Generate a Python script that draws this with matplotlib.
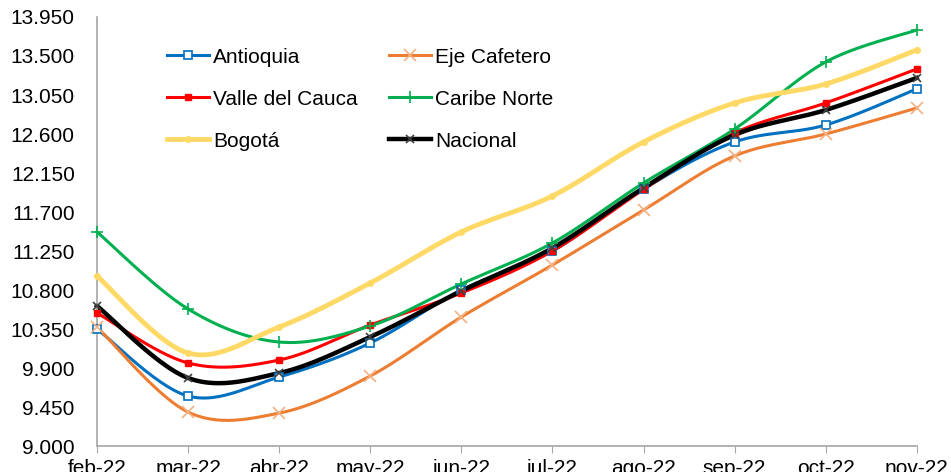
import numpy as np
import matplotlib
matplotlib.use("Agg")
import matplotlib.pyplot as plt
from matplotlib.ticker import FuncFormatter

plt.rcParams['font.family'] = ['Liberation Sans', 'DejaVu Sans']

meses = ['feb-22', 'mar-22', 'abr-22', 'may-22', 'jun-22', 'jul-22',
         'ago-22', 'sep-22', 'oct-22', 'nov-22']

antioquia = [10350, 9577, 9796, 10189, 10800, 11250, 11966, 12508, 12704, 13120]
eje_cafetero = [10373, 9392, 9380, 9808, 10488, 11089, 11723, 12347, 12600, 12900]
valle = [10535, 9958, 9992, 10396, 10765, 11250, 11960, 12612, 12958, 13350]
caribe = [11470, 10581, 10200, 10385, 10870, 11343, 12035, 12658, 13431, 13800]
bogota = [10962, 10073, 10373, 10881, 11470, 11885, 12508, 12958, 13177, 13570]
nacional = [10616, 9785, 9842, 10258, 10789, 11285, 11977, 12589, 12877, 13247]


def suavizar(x, y, n=30):
    # bezier suave tipo Excel (catmull-rom)
    x = np.asarray(x, float)
    y = np.asarray(y, float)
    xs, ys = [], []
    m = len(x)
    for i in range(m - 1):
        i0 = max(i - 1, 0)
        i3 = min(i + 2, m - 1)
        p0 = np.array([x[i0], y[i0]])
        p1 = np.array([x[i], y[i]])
        p2 = np.array([x[i + 1], y[i + 1]])
        p3 = np.array([x[i3], y[i3]])
        c1 = p1 + (p2 - p0) / 6
        c2 = p2 - (p3 - p1) / 6
        t = np.linspace(0, 1, n)[:, None]
        pts = ((1 - t) ** 3) * p1 + 3 * ((1 - t) ** 2) * t * c1 + 3 * (1 - t) * t ** 2 * c2 + t ** 3 * p2
        xs.extend(pts[:, 0])
        ys.extend(pts[:, 1])
    return np.array(xs), np.array(ys)


fig = plt.figure(figsize=(9.51, 4.72), dpi=100)
ax = fig.add_axes([0.102, 0.055, 0.862, 0.909])

x = np.arange(len(meses))

series = [
    ('Antioquia', antioquia, '#0070C0', 2.2, dict(marker='s', ms=6, mfc='white', mec='#0070C0', mew=1.2)),
    ('Eje Cafetero', eje_cafetero, '#ED7D31', 2.2, dict(marker='x', ms=8, mec='#F4B183', mew=1.2)),
    ('Valle del Cauca', valle, '#FF0000', 2.2, dict(marker='s', ms=5, mfc='#FF0000', mec='#FF0000')),
    ('Caribe Norte', caribe, '#00B050', 2.2, dict(marker='+', ms=9, mec='#00B050', mew=1.2)),
    ('Bogotá', bogota, '#FFD966', 3.5, dict(marker='o', ms=4, mfc='#FFD966', mec='#FFD966')),
    ('Nacional', nacional, '#000000', 3.2, dict(marker='x', ms=6, mec='#404040', mew=1.2)),
]

handles = {}
for nombre, vals, color, lw, mk in series:
    sx, sy = suavizar(x, vals)
    ax.plot(sx, sy, color=color, lw=lw, zorder=2, clip_on=False)
    ax.plot(x, vals, ls='none', zorder=3, clip_on=False, **mk)
    handles[nombre], = ax.plot([], [], color=color, lw=lw, label=nombre, **mk)

ax.set_xlim(0, 9)
ax.set_ylim(9000, 13950)
ax.set_yticks(np.arange(9000, 13951, 450))
ax.yaxis.set_major_formatter(FuncFormatter(lambda v, p: f'{v:,.0f}'.replace(',', '.')))
ax.set_xticks(x)
ax.set_xticklabels(meses)

for s in ['top', 'right']:
    ax.spines[s].set_visible(False)
for s in ['left', 'bottom']:
    ax.spines[s].set_color('#A6A6A6')
    ax.spines[s].set_linewidth(1.2)

ax.tick_params(axis='y', length=0, labelsize=15, pad=16)
ax.tick_params(axis='x', length=5, color='#A6A6A6', labelsize=15, pad=4)

orden = ['Antioquia', 'Valle del Cauca', 'Bogotá', 'Eje Cafetero', 'Caribe Norte', 'Nacional']
ax.legend([handles[k] for k in orden], orden, ncol=2, loc='upper left',
          bbox_to_anchor=(0.063, 0.972), frameon=False,
          fontsize=15, handlelength=2.0, handletextpad=0.2, columnspacing=1.5,
          labelspacing=1.1)

fig.savefig('out.png', dpi=100)
